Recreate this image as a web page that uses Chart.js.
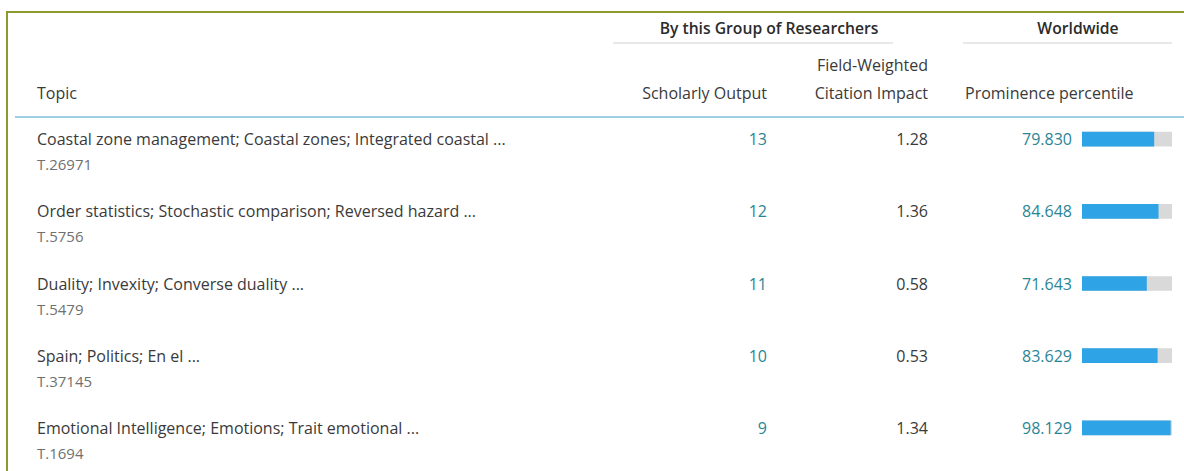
<!DOCTYPE html>
<html>
<head>
<meta charset="utf-8">
<script src="https://cdn.jsdelivr.net/npm/chart.js@4"></script>
<style>
body { margin: 0; background: #fff; font-family: "Open Sans", Lato, sans-serif; }
#wrap { position: relative; width: 1184px; height: 471px; overflow: hidden; }
.frame { position: absolute; left: 6px; top: 11px; width: 1300px; height: 600px;
  border-left: 2px solid #8d9a2e; border-top: 2px solid #8d9a2e; }
.t { position: absolute; white-space: nowrap; font-size: 16px; line-height: 20px; color: #3a3a3a; }
.b { font-weight: 600; color: #2b2b2b; font-size: 15.7px; }
.hl { position: absolute; height: 2px; background: #e8e8e8; }
.teal { color: #2a8595; }
.sub { color: #707070; font-size: 15px; }
#barBox { position: absolute; left: 1082px; top: 103px; width: 90px; height: 361px; }
</style>
</head>
<body>
<div id="wrap">
  <div class="frame"></div>
  <div class="t b" style="left:609px;width:320px;top:18px;text-align:center">By this Group of Researchers</div>
  <div class="t b" style="left:978px;width:200px;top:18px;text-align:center">Worldwide</div>
  <div class="hl" style="left:613px;width:280px;top:42px"></div>
  <div class="hl" style="left:963px;width:209px;top:42px"></div>
  <div class="t" style="right:256px;top:55px;text-align:right">Field-Weighted</div>
  <div class="t" style="right:256px;top:83px;text-align:right">Citation Impact</div>
  <div class="t" style="right:417px;top:83px;text-align:right">Scholarly Output</div>
  <div class="t" style="left:965px;top:83px">Prominence percentile</div>
  <div class="t" style="left:37px;top:83px">Topic</div>
  <div class="hl" style="left:15px;width:1169px;top:116px;background:#9fcfe3"></div>
  <div id="rows"></div>
  <div id="barBox"><canvas id="barChart"></canvas></div>
</div>
<script>
// TABLE DATA
const topics = [
    "Coastal zone management; Coastal zones; Integrated coastal ...",
    "Order statistics; Stochastic comparison; Reversed hazard ...",
    "Duality; Invexity; Converse duality ...",
    "Spain; Politics; En el ...",
    "Emotional Intelligence; Emotions; Trait emotional ..."
];
const topicIds = ["T.26971", "T.5756", "T.5479", "T.37145", "T.1694"];
const scholarlyOutput = [13, 12, 11, 10, 9];
const fwci = ["1.28", "1.36", "0.58", "0.53", "1.34"];
const prominence = [79.830, 84.648, 71.643, 83.629, 98.129];
const percentileMax = 100;

const rows = document.getElementById("rows");
topics.forEach((topic, i) => {
    const yc = 139 + 72.25 * i;
    const top = Math.round(yc - 10);
    rows.insertAdjacentHTML("beforeend",
        `<div class="t" style="left:37px;top:${top}px">${topic}</div>` +
        `<div class="t sub" style="left:37px;top:${top + 25}px">${topicIds[i]}</div>` +
        `<div class="t teal" style="right:417px;top:${top}px;text-align:right">${scholarlyOutput[i]}</div>` +
        `<div class="t" style="right:256px;top:${top}px;text-align:right">${fwci[i]}</div>` +
        `<div class="t teal" style="right:112px;top:${top}px;text-align:right">${prominence[i].toFixed(3)}</div>`);
});

// PERCENTILE BARS
new Chart(document.getElementById("barChart"), {
    type: "bar",
    data: {
        labels: topicIds,
        datasets: [{
            data: prominence,
            backgroundColor: "#2ea3e6",
            grouped: false,
            order: 0,
            barThickness: 14
        }, {
            data: topicIds.map(() => percentileMax),
            backgroundColor: "#d9d9d9",
            grouped: false,
            order: 1,
            barThickness: 14
        }]
    },
    options: {
        indexAxis: "y",
        responsive: true,
        maintainAspectRatio: false,
        animation: false,
        layout: { padding: 0 },
        plugins: { legend: { display: false }, tooltip: { enabled: false } },
        scales: {
            x: { display: false, min: 0, max: percentileMax },
            y: { display: false }
        }
    }
});
</script>
</body>
</html>
